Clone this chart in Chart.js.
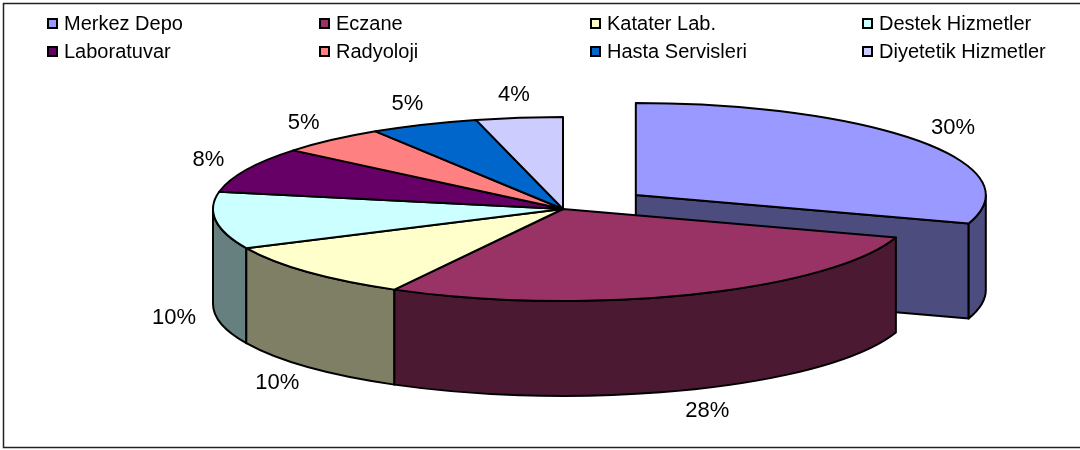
<!DOCTYPE html>
<html>
<head>
<meta charset="utf-8">
<script src="https://cdn.jsdelivr.net/npm/chart.js@4.4.0/dist/chart.umd.min.js"></script>
<style>
  body { margin: 0; background: #fff; }
  #wrap { position: relative; width: 1080px; height: 450px; }
</style>
</head>
<body>
<div id="wrap"><canvas id="chart"></canvas></div>
<script>
const labels = ["Merkez Depo", "Eczane", "Katater Lab.", "Destek Hizmetler",
  "Laboratuvar", "Radyoloji", "Hasta Servisleri", "Diyetetik Hizmetler"];
const shares = [30, 28, 10, 10, 8, 5, 5, 4];
const colors = ["#9999FF", "#993366", "#FFFFCC", "#CCFFFF",
  "#660066", "#FF8080", "#0066CC", "#CCCCFF"];

const TILT = 92 / 350;   // vertical squash of the pie top
const DEPTH = 95;        // height of the side walls
const FONT = '"Liberation Sans", Arial, sans-serif';

// wall colour = every channel halved
const shade = (hex) => {
  const n = parseInt(hex.slice(1), 16);
  return `rgb(${(n >> 16) >> 1},${((n >> 8) & 255) >> 1},${(n & 255) >> 1})`;
};

// geometry of each slice, taken from the arcs chart.js laid out
const sliceGeo = (chart) => chart.getDatasetMeta(0).data.map((arc, i) => {
  const p = arc.getProps(["x", "y", "startAngle", "endAngle", "outerRadius"], true);
  const mid = (p.startAngle + p.endAngle) / 2;
  const off = arc.options.offset || 0;
  return {
    i, s: p.startAngle, e: p.endAngle, mid, r: p.outerRadius, off,
    cx: p.x + Math.cos(mid) * off,
    cy: p.y + Math.sin(mid) * off * TILT
  };
});

const pie3d = {
  id: "pie3d",
  beforeDatasetsDraw(chart) {
    const ctx = chart.ctx;
    const geo = sliceGeo(chart);
    const n = geo.length;
    const ry = (g) => g.r * TILT;

    const pieces = [];
    geo.forEach((g, i) => {
      // outer wall: only the front half (0..PI) faces the viewer
      const a0 = Math.max(g.s, 0), a1 = Math.min(g.e, Math.PI);
      if (a1 > a0) pieces.push({ g, kind: "wall", a0, a1, key: g.cy + ry(g) * Math.sin((a0 + a1) / 2) });
      // cut faces are only seen next to an exploded slice
      const prev = geo[(i - 1 + n) % n], next = geo[(i + 1) % n];
      if ((g.off || next.off) && Math.cos(g.e) > 0.001)
        pieces.push({ g, kind: "face", a: g.e, key: g.cy + ry(g) * Math.sin(g.e) / 2 });
      if ((g.off || prev.off) && Math.cos(g.s) < -0.001)
        pieces.push({ g, kind: "face", a: g.s, key: g.cy + ry(g) * Math.sin(g.s) / 2 });
    });
    pieces.sort((a, b) => a.key - b.key);

    ctx.save();
    ctx.lineWidth = 2;
    ctx.lineJoin = "round";
    ctx.strokeStyle = "#000";
    pieces.forEach((pc) => {
      const g = pc.g;
      ctx.beginPath();
      if (pc.kind === "wall") {
        ctx.ellipse(g.cx, g.cy, g.r, ry(g), 0, pc.a0, pc.a1);
        ctx.ellipse(g.cx, g.cy + DEPTH, g.r, ry(g), 0, pc.a1, pc.a0, true);
      } else {
        const x = g.cx + g.r * Math.cos(pc.a), y = g.cy + ry(g) * Math.sin(pc.a);
        ctx.moveTo(g.cx, g.cy);
        ctx.lineTo(x, y);
        ctx.lineTo(x, y + DEPTH);
        ctx.lineTo(g.cx, g.cy + DEPTH);
      }
      ctx.closePath();
      ctx.fillStyle = shade(colors[g.i]);
      ctx.fill();
      ctx.stroke();
    });

    // top faces
    geo.forEach((g) => {
      ctx.beginPath();
      ctx.moveTo(g.cx, g.cy);
      ctx.ellipse(g.cx, g.cy, g.r, ry(g), 0, g.s, g.e);
      ctx.closePath();
      ctx.fillStyle = colors[g.i];
      ctx.fill();
      ctx.stroke();
    });
    ctx.restore();
    return false;
  },
  afterDraw(chart) {
    const ctx = chart.ctx;
    const geo = sliceGeo(chart);
    const values = chart.data.datasets[0].data;
    const total = values.reduce((a, b) => a + b, 0);

    ctx.save();
    // percentage labels outside the rim
    ctx.fillStyle = "#000";
    ctx.font = "22px " + FONT;
    ctx.textAlign = "center";
    ctx.textBaseline = "middle";
    geo.forEach((g) => {
      const sin = Math.sin(g.mid);
      const x = g.cx + g.r * 1.12 * Math.cos(g.mid);
      const y = g.cy + g.r * TILT * 1.25 * sin + (sin > 0 ? DEPTH : 0);
      ctx.fillText(Math.round(values[g.i] / total * 100) + "%", x, y);
    });

    // legend, four columns by two rows
    const colX = [47, 319, 590, 862], rowY = [23, 51];
    ctx.font = "20px " + FONT;
    ctx.textAlign = "left";
    ctx.lineWidth = 2;
    chart.data.labels.forEach((lab, i) => {
      const x = colX[i % 4], y = rowY[Math.floor(i / 4)];
      ctx.fillStyle = colors[i];
      ctx.fillRect(x, y - 5, 11, 11);
      ctx.strokeStyle = "#000";
      ctx.strokeRect(x + 1, y - 4, 9, 9);
      ctx.fillStyle = "#000";
      ctx.fillText(lab, x + 17, y + 1);
    });

    // frame
    ctx.strokeStyle = "#222";
    ctx.lineWidth = 1.5;
    ctx.strokeRect(3.5, 3.5, 1100, 444);
    ctx.restore();
  }
};

new Chart(document.getElementById("chart"), {
  type: "pie",
  data: {
    labels: labels,
    datasets: [{
      data: shares,
      backgroundColor: colors,
      offset: [90, 0, 0, 0, 0, 0, 0, 0]
    }]
  },
  options: {
    responsive: true,
    maintainAspectRatio: false,
    animation: false,
    events: [],
    radius: 350,
    layout: { padding: { left: 46, right: 0, top: 0, bottom: 32 } },
    plugins: {
      legend: { display: false },
      tooltip: { enabled: false }
    }
  },
  plugins: [pie3d]
});
</script>
</body>
</html>
